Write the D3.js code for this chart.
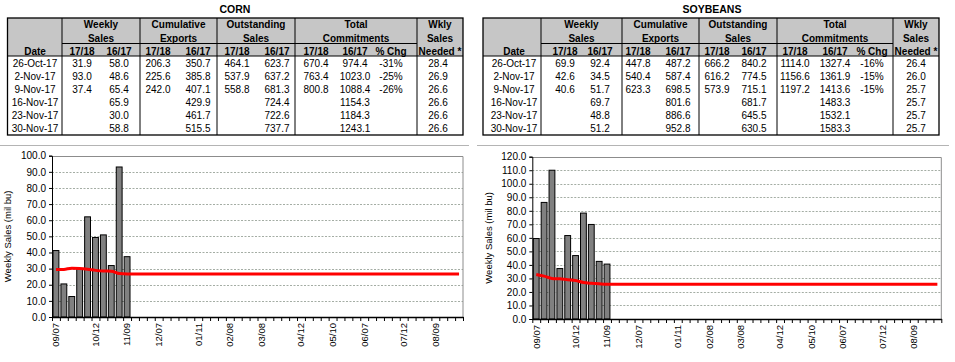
<!DOCTYPE html>
<html><head><meta charset="utf-8">
<script src="https://cdn.jsdelivr.net/npm/d3@7"></script>
<style>body{margin:0;background:#fff} text{font-family:"Liberation Sans",Arial,sans-serif;fill:#000}</style>
</head><body><svg id="c" width="955" height="362"></svg>
<script>
// ---------- DATA ----------
const weeks = ["09/07","09/14","09/21","09/28","10/05","10/12","10/19","10/26","11/02","11/09","11/16","11/23","11/30",
  "12/07","12/14","12/21","12/28","01/04","01/11","01/18","01/25","02/01","02/08","02/15","02/22",
  "03/01","03/08","03/15","03/22","03/29","04/05","04/12","04/19","04/26","05/03","05/10","05/17","05/24","05/31",
  "06/07","06/14","06/21","06/28","07/05","07/12","07/19","07/26","08/02","08/09","08/16","08/23","08/30"];
const tickLabels = ["09/07","10/12","11/09","12/07","01/11","02/08","03/08","04/12","05/10","06/07","07/12","08/09"];

const cornSales = [41.2,20.5,12.7,29.8,62.1,49.3,50.9,31.9,93.0,37.4];
const cornNeeded = [29.4,29.5,30.3,30.1,29.6,28.9,28.5,28.4,26.9,26.6,
  26.6,26.6,26.6,26.6,26.6,26.6,26.6,26.6,26.6,26.6,26.6,26.6,26.6,26.6,
  26.6,26.6,26.6,26.6,26.6,26.6,26.6,26.6,26.6,26.6,26.6,26.6,26.6,26.6,
  26.6,26.6,26.6,26.6,26.6,26.6,26.6,26.6,26.6,26.6,26.6,26.6,26.6,26.6];
const soySales = [59.5,86.2,110.0,37.3,61.7,46.9,78.3,69.9,42.6,40.6];
const soyNeeded = [32.9,31.7,30.0,29.7,29.0,28.5,27.0,26.4,26.0,25.7,
  25.7,25.7,25.7,25.7,25.7,25.7,25.7,25.7,25.7,25.7,25.7,25.7,25.7,25.7,
  25.7,25.7,25.7,25.7,25.7,25.7,25.7,25.7,25.7,25.7,25.7,25.7,25.7,25.7,
  25.7,25.7,25.7,25.7,25.7,25.7,25.7,25.7,25.7,25.7,25.7,25.7,25.7,25.7];

const tableDates = ["26-Oct-17","2-Nov-17","9-Nov-17","16-Nov-17","23-Nov-17","30-Nov-17"];
const groupHeaders = [["Weekly","Sales"],["Cumulative","Exports"],["Outstanding","Sales"],["Total","Commitments"]];
const subHeaders = ["17/18","16/17","17/18","16/17","17/18","16/17","17/18","16/17","% Chg"];
const neededHeader = ["Wkly","Sales","Needed *"];

const cornWeekly1718 = ["31.9","93.0","37.4","","",""];
const cornWeekly1617 = ["58.0","48.6","65.4","65.9","30.0","58.8"];
const cornCum1718 = ["206.3","225.6","242.0","","",""];
const cornCum1617 = ["350.7","385.8","407.1","429.9","461.7","515.5"];
const cornOut1718 = ["464.1","537.9","558.8","","",""];
const cornOut1617 = ["623.7","637.2","681.3","724.4","722.6","737.7"];
const cornTot1718 = ["670.4","763.4","800.8","","",""];
const cornTot1617 = ["974.4","1023.0","1088.4","1154.3","1184.3","1243.1"];
const cornPctChg = ["-31%","-25%","-26%","","",""];
const cornNeededTbl = ["28.4","26.9","26.6","26.6","26.6","26.6"];

const soyWeekly1718 = ["69.9","42.6","40.6","","",""];
const soyWeekly1617 = ["92.4","34.5","51.7","69.7","48.8","51.2"];
const soyCum1718 = ["447.8","540.4","623.3","","",""];
const soyCum1617 = ["487.2","587.4","698.5","801.6","886.6","952.8"];
const soyOut1718 = ["666.2","616.2","573.9","","",""];
const soyOut1617 = ["840.2","774.5","715.1","681.7","645.5","630.5"];
const soyTot1718 = ["1114.0","1156.6","1197.2","","",""];
const soyTot1617 = ["1327.4","1361.9","1413.6","1483.3","1532.1","1583.3"];
const soyPctChg = ["-16%","-15%","-15%","","",""];
const soyNeededTbl = ["26.4","26.0","25.7","25.7","25.7","25.7"];

// ---------- DRAW ----------
const svg = d3.select("#c");
svg.append("rect").attr("width",955).attr("height",362).attr("fill","#fff");

function drawTable(t){
  const g = svg.append("g");
  const B = t.bounds, C = t.centers;
  const top = 18, subTop = 43.5, hdrBot = 56, bottom = 135;
  g.append("rect").attr("x",B[0]).attr("y",top).attr("width",B[6]-B[0]).attr("height",hdrBot-top).attr("fill","#c6c6c6");
  g.append("text").attr("x",t.titleX).attr("y",13).attr("text-anchor","middle")
    .attr("font-size",10.5).attr("font-weight","bold").text(t.title);
  const line=(x1,y1,x2,y2,w)=>g.append("line").attr("x1",x1).attr("y1",y1).attr("x2",x2).attr("y2",y2)
    .attr("stroke","#000").attr("stroke-width",w||1);
  line(B[0],hdrBot,B[6],hdrBot,1);
  line(B[1],subTop,B[5],subTop,1);
  for(let i=1;i<=5;i++) line(B[i],top,B[i],bottom,1);
  g.append("rect").attr("x",B[0]).attr("y",top).attr("width",B[6]-B[0]).attr("height",bottom-top)
    .attr("fill","none").attr("stroke","#000").attr("stroke-width",1.3);
  const txt=(x,y,s,bold)=>g.append("text").attr("x",x).attr("y",y+3.5).attr("text-anchor","middle")
    .attr("font-size",10).attr("font-weight",bold?"bold":"normal").text(s);
  groupHeaders.forEach((h,i)=>{
    const cx=(B[i+1]+B[i+2])/2;
    txt(cx,24.5,h[0],true); txt(cx,38,h[1],true);
  });
  const nx=(B[5]+B[6])/2;
  neededHeader.forEach((s,i)=>txt(nx,[24.5,38,51][i],s,true));
  txt(C[0],51,"Date",true);
  subHeaders.forEach((s,i)=>txt(C[i+1],51,s,true));
  const cols=[tableDates].concat(t.cols);
  tableDates.forEach((d,r)=>{
    const y=63.3+r*12.95;
    cols.forEach((col,ci)=>{ if(col[r]) txt(C[ci],y,col[r],false); });
  });
}

drawTable({title:"CORN",titleX:235,
  bounds:[7.5,62,140,217,295,417,463],
  centers:[35,82,119,158,198,237,277,316,355,391,438],
  cols:[cornWeekly1718,cornWeekly1617,cornCum1718,cornCum1617,cornOut1718,cornOut1617,cornTot1718,cornTot1617,cornPctChg,cornNeededTbl]});
drawTable({title:"SOYBEANS",titleX:712,
  bounds:[483,541,622,699,777,893,939],
  centers:[514,565,600,638,678,717,754,795,835,872,916],
  cols:[soyWeekly1718,soyWeekly1617,soyCum1718,soyCum1617,soyOut1718,soyOut1617,soyTot1718,soyTot1617,soyPctChg,soyNeededTbl]});

// separators
svg.append("line").attr("x1",0).attr("x2",469).attr("y1",145.5).attr("y2",145.5).attr("stroke","#b4b4b4");
svg.append("line").attr("x1",477).attr("x2",949).attr("y1",145.5).attr("y2",145.5).attr("stroke","#b4b4b4");

function drawChart(o){
  const g = svg.append("g");
  const x = d3.scaleBand().domain(weeks).range([o.left,o.right]).paddingInner(0.26).paddingOuter(0.13);
  const xi = d3.scaleLinear().domain([0,weeks.length]).range([o.left,o.right]);
  const y = d3.scaleLinear().domain([0,o.ymax]).range([o.bottom,o.top]);
  const yt = d3.range(0,o.ymax+1,10);
  g.selectAll(".grid").data(yt.filter(v=>v>0&&v<o.ymax)).join("line")
    .attr("x1",o.left).attr("x2",o.right).attr("y1",d=>Math.round(y(d))+0.5).attr("y2",d=>Math.round(y(d))+0.5)
    .attr("stroke","#9aa49a").attr("stroke-dasharray","2,1.5").attr("stroke-width",0.9);
  g.append("path").attr("d",`M${o.left},${Math.round(o.top)+0.5}H${o.right}V${o.bottom}`)
    .attr("fill","none").attr("stroke","#8c8c8c");
  g.selectAll(".bar").data(o.sales).join("rect")
    .attr("x",(d,i)=>x(weeks[i])).attr("width",x.bandwidth())
    .attr("y",d=>y(d)).attr("height",d=>y(0)-y(d))
    .attr("fill","#808080").attr("stroke","#000").attr("stroke-width",1);
  const ln = d3.line().x((d,i)=>x(weeks[i])+x.bandwidth()/2).y(d=>y(d)).curve(d3.curveMonotoneX);
  g.append("path").attr("d",ln(o.needed)).attr("fill","none").attr("stroke","#ff0000").attr("stroke-width",3);
  const ya = g.append("g").attr("transform",`translate(${o.left},0)`)
    .call(d3.axisLeft(y).tickValues(yt).tickFormat(d3.format(".1f")).tickSize(3).tickPadding(3));
  ya.select(".domain").attr("stroke","#000");
  ya.selectAll("text").attr("font-size",10).attr("font-family","Liberation Sans, Arial, sans-serif");
  const xa = g.append("g").attr("transform",`translate(0,${o.bottom})`)
    .call(d3.axisBottom(xi).tickValues(d3.range(weeks.length+1)).tickFormat("").tickSize(4).tickSizeOuter(0));
  xa.select(".domain").attr("stroke","#000").attr("stroke-width",1.5);
  g.selectAll(".xl").data(tickLabels).join("text")
    .attr("transform",d=>`translate(${x(d)+x.bandwidth()/2+3.3},${o.bottom+6}) rotate(-90)`)
    .attr("text-anchor","end").attr("font-size",9.5).text(d=>d);
  g.append("text").attr("transform",`translate(${o.titleX},${(o.top+o.bottom)/2}) rotate(-90)`)
    .attr("text-anchor","middle").attr("font-size",9.5).text("Weekly Sales (mil bu)");
}

drawChart({left:52,right:463,top:155.7,bottom:317,ymax:100,sales:cornSales,needed:cornNeeded,titleX:10.5});
drawChart({left:532.3,right:941.3,top:156.7,bottom:319,ymax:120,sales:soySales,needed:soyNeeded,titleX:491.5});
</script></body></html>
